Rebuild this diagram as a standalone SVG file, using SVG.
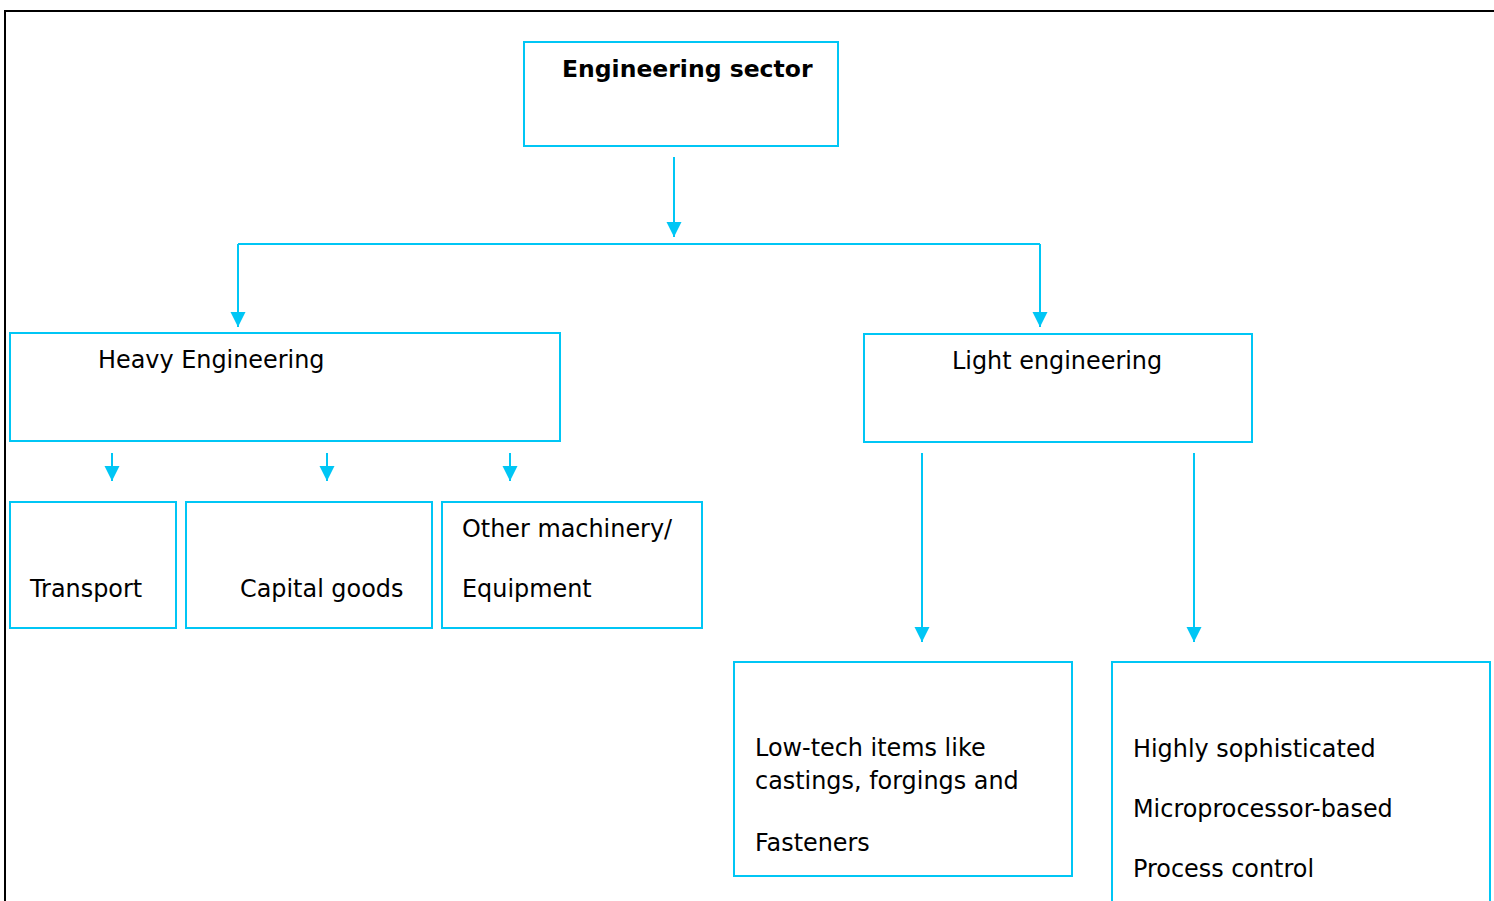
<svg xmlns="http://www.w3.org/2000/svg" width="1494" height="901" viewBox="0 0 1494 901">
<style>
.box{fill:#fff;stroke:#00c6f5;stroke-width:2}
.con{fill:none;stroke:#00c6f5;stroke-width:2}
.t{font-family:"DejaVu Sans","Verdana",sans-serif;font-size:23.9px;fill:#000}
.b{font-weight:bold;font-size:23.5px}
</style>
<defs>
<marker id="ah" markerUnits="userSpaceOnUse" markerWidth="16" markerHeight="16" viewBox="0 0 16 16" refX="15" refY="8" orient="auto">
<path d="M0,0.5 L15,8 L0,15.5 Z" fill="#00c6f5"/>
</marker>
</defs>
<rect width="1494" height="901" fill="#fff"/>
<path d="M5,901 V11 H1494" fill="none" stroke="#000" stroke-width="2"/>
<g id="connectors">
<path class="con" d="M674,157 V237" marker-end="url(#ah)"/>
<path class="con" d="M238,244 H1040"/>
<path class="con" d="M238,244 V327" marker-end="url(#ah)"/>
<path class="con" d="M1040,244 V327" marker-end="url(#ah)"/>
<path class="con" d="M112,453 V481" marker-end="url(#ah)"/>
<path class="con" d="M327,453 V481" marker-end="url(#ah)"/>
<path class="con" d="M510,453 V481" marker-end="url(#ah)"/>
<path class="con" d="M922,453 V642" marker-end="url(#ah)"/>
<path class="con" d="M1194,453 V642" marker-end="url(#ah)"/>
</g>
<g id="engineering-sector">
<rect class="box" x="524" y="42" width="314" height="104"/>
<text class="t b" x="562" y="77">Engineering sector</text>
</g>
<g id="heavy-engineering">
<rect class="box" x="10" y="333" width="550" height="108"/>
<text class="t" x="98" y="368">Heavy Engineering</text>
</g>
<g id="light-engineering">
<rect class="box" x="864" y="334" width="388" height="108"/>
<text class="t" x="952" y="369">Light engineering</text>
</g>
<g id="transport">
<rect class="box" x="10" y="502" width="166" height="126"/>
<text class="t" x="30" y="597">Transport</text>
</g>
<g id="capital-goods">
<rect class="box" x="186" y="502" width="246" height="126"/>
<text class="t" x="240" y="597">Capital goods</text>
</g>
<g id="other-machinery">
<rect class="box" x="442" y="502" width="260" height="126"/>
<text class="t" x="462" y="537">Other machinery/</text>
<text class="t" x="462" y="597">Equipment</text>
</g>
<g id="low-tech">
<rect class="box" x="734" y="662" width="338" height="214"/>
<text class="t" x="755" y="756">Low-tech items like</text>
<text class="t" x="755" y="789">castings, forgings and</text>
<text class="t" x="755" y="851">Fasteners</text>
</g>
<g id="highly-sophisticated">
<rect class="box" x="1112" y="662" width="378" height="260"/>
<text class="t" x="1133" y="757">Highly sophisticated</text>
<text class="t" x="1133" y="817">Microprocessor-based</text>
<text class="t" x="1133" y="877">Process control</text>
</g>
</svg>
